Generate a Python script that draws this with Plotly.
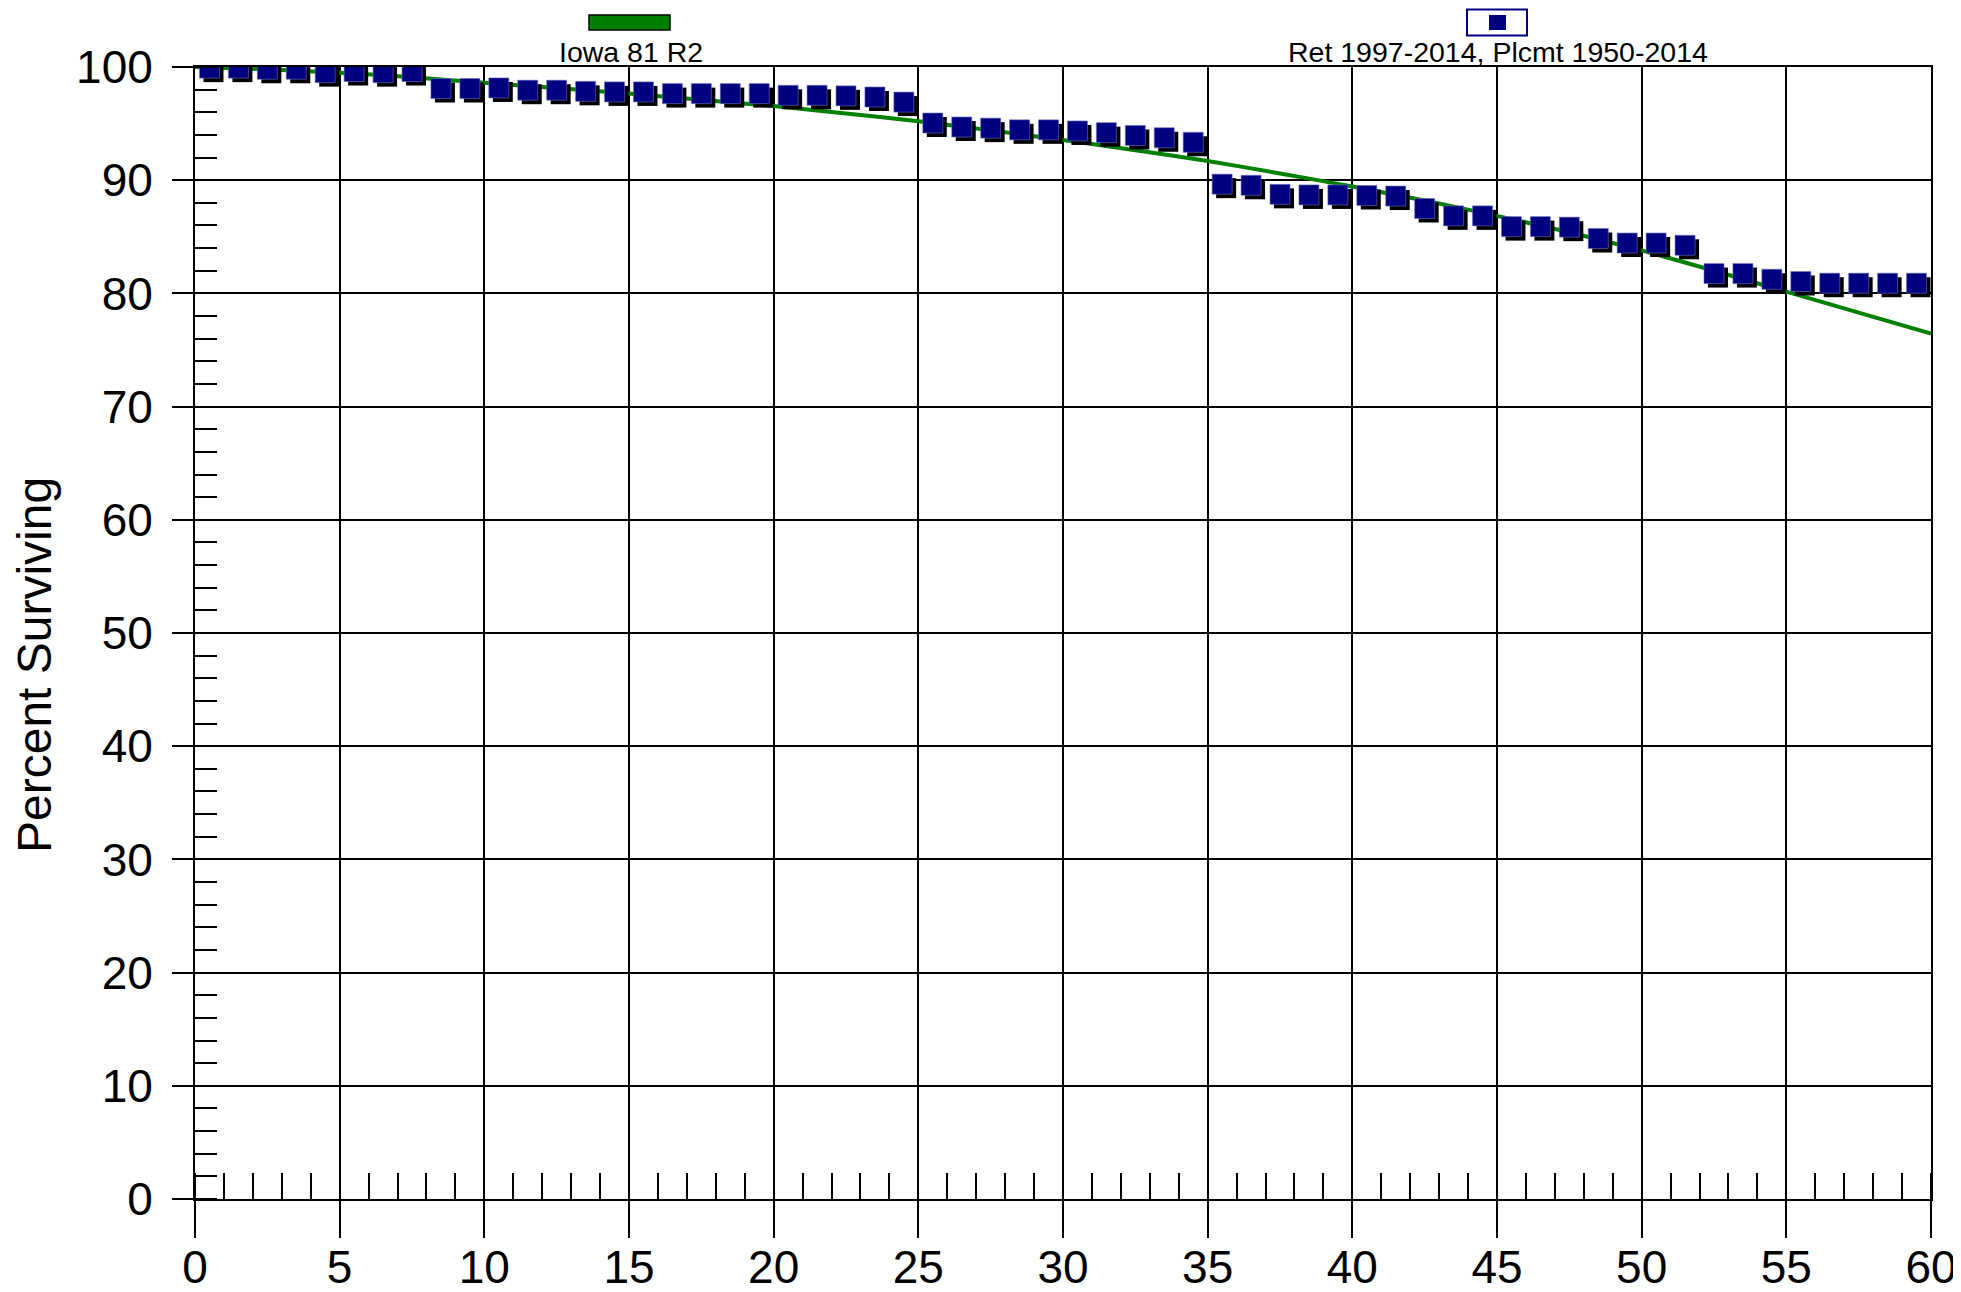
import plotly.graph_objects as go

# ---------------- data ----------------
age = [0.5, 1.5, 2.5, 3.5, 4.5, 5.5, 6.5, 7.5, 8.5, 9.5,
       10.5, 11.5, 12.5, 13.5, 14.5, 15.5, 16.5, 17.5, 18.5, 19.5,
       20.5, 21.5, 22.5, 23.5, 24.5, 25.5, 26.5, 27.5, 28.5, 29.5,
       30.5, 31.5, 32.5, 33.5, 34.5, 35.5, 36.5, 37.5, 38.5, 39.5,
       40.5, 41.5, 42.5, 43.5, 44.5, 45.5, 46.5, 47.5, 48.5, 49.5,
       50.5, 51.5, 52.5, 53.5, 54.5, 55.5, 56.5, 57.5, 58.5, 59.5]
surviving = [99.9, 99.9, 99.8, 99.8, 99.5, 99.6, 99.5, 99.6, 98.1, 98.1,
             98.15, 97.95, 97.95, 97.85, 97.8, 97.8, 97.65, 97.65, 97.65, 97.65,
             97.5, 97.5, 97.45, 97.35, 96.9, 95.05, 94.7, 94.6, 94.45, 94.45,
             94.35, 94.2, 93.95, 93.75, 93.35, 89.65, 89.55, 88.75, 88.7, 88.7,
             88.65, 88.6, 87.5, 86.85, 86.85, 85.9, 85.9, 85.85, 84.85, 84.45,
             84.45, 84.25, 81.75, 81.75, 81.25, 81.05, 80.9, 80.9, 80.9, 80.9]

iowa_age = [0, 2.5, 5, 7.5, 10, 12.5, 15, 17.5, 20, 22.5, 25, 27.5, 30,
            32.5, 35, 37.5, 40, 42.5, 45, 47.5, 50, 52.5, 55, 57.5, 60]
iowa_pct = [100.0, 99.8, 99.5, 99.1, 98.6, 98.15, 97.65, 97.1, 96.55, 95.9,
            95.2, 94.4, 93.55, 92.65, 91.7, 90.6, 89.45, 88.2, 86.85, 85.4,
            83.8, 82.0, 80.15, 78.3, 76.45]

x_ticks = [0, 5, 10, 15, 20, 25, 30, 35, 40, 45, 50, 55, 60]
y_ticks = [0, 10, 20, 30, 40, 50, 60, 70, 80, 90, 100]

curve_name = "Iowa 81 R2"
points_name = "Ret 1997-2014, Plcmt 1950-2014"
y_title = "Percent Surviving"

# ---------------- layout geometry ----------------
# the page body has a default 8px margin, so the figure is sized to fill
# the 1961x1292 window exactly from that offset
OFF = 8
W, H = 1961 - OFF, 1292 - OFF
ML, MR, MT, MB = 187, 30, 59, 93
PW, PH = W - ML - MR, H - MT - MB
X_RANGE = [0, 60]
Y_RANGE = [0, 100]


def px_x(p):
    # p: window pixel column -> paper x
    return (p - OFF - ML) / PW


def px_y(p):
    # p: window pixel row -> paper y
    return (H - MB - (p - OFF)) / PH


# shadow offset (pixels) converted to data units
SH_PX = 4
sh_dx = SH_PX * (X_RANGE[1] - X_RANGE[0]) / PW
sh_dy = SH_PX * (Y_RANGE[1] - Y_RANGE[0]) / PH

FONT = "Liberation Sans, Arial, Helvetica, sans-serif"
GREEN = "#008000"
NAVY = "#000080"
MSIZE = 20

fig = go.Figure()

fig.add_trace(go.Scatter(
    x=iowa_age, y=iowa_pct, mode="lines", name=curve_name,
    line=dict(color=GREEN, width=4, shape="spline", smoothing=0.6),
    showlegend=False, hoverinfo="skip"))

fig.add_trace(go.Scatter(
    x=[a + sh_dx for a in age], y=[s - sh_dy for s in surviving],
    mode="markers", marker=dict(symbol="square", size=MSIZE, color="black", line=dict(width=0)),
    showlegend=False, hoverinfo="skip"))

fig.add_trace(go.Scatter(
    x=age, y=surviving, mode="markers", name=points_name,
    marker=dict(symbol="square", size=MSIZE, color=NAVY, line=dict(width=0.6, color="#6d6dc0")),
    showlegend=False))

axis_common = dict(
    showgrid=True, gridcolor="black", gridwidth=2,
    showline=True, linecolor="black", linewidth=2, mirror=True,
    zeroline=False, ticks="outside", tickcolor="black", tickwidth=2,
    automargin=False,
    tickfont=dict(family=FONT, size=46, color="black"),
)

fig.update_xaxes(
    range=X_RANGE, tickmode="array", tickvals=x_ticks, ticklen=37,
    ticklabelstandoff=-10,
    minor=dict(dtick=1, ticks="inside", ticklen=26, tickwidth=2, tickcolor="black", showgrid=False),
    **axis_common)
fig.update_yaxes(
    range=Y_RANGE, tickmode="array", tickvals=y_ticks, ticklen=21,
    ticklabelstandoff=10,
    minor=dict(dtick=2, ticks="inside", ticklen=22, tickwidth=2, tickcolor="black", showgrid=False),
    **axis_common)

shapes = [
    # green legend swatch
    dict(type="rect", xref="paper", yref="paper",
         x0=px_x(589), x1=px_x(670), y0=px_y(30), y1=px_y(15),
         fillcolor=GREEN, line=dict(color="black", width=1.5), layer="above"),
    # navy legend frame
    dict(type="rect", xref="paper", yref="paper",
         x0=px_x(1467), x1=px_x(1527), y0=px_y(35.5), y1=px_y(9.5),
         fillcolor="white", line=dict(color=NAVY, width=2), layer="above"),
    # navy legend inner square
    dict(type="rect", xref="paper", yref="paper",
         x0=px_x(1489), x1=px_x(1506), y0=px_y(30), y1=px_y(15),
         fillcolor=NAVY, line=dict(width=0), layer="above"),
]

annotations = [
    dict(text=curve_name, xref="paper", yref="paper", x=px_x(631), y=px_y(52),
         xanchor="center", yanchor="middle", showarrow=False,
         font=dict(family=FONT, size=28.5, color="black")),
    dict(text=points_name, xref="paper", yref="paper", x=px_x(1497.5), y=px_y(52),
         xanchor="center", yanchor="middle", showarrow=False,
         font=dict(family=FONT, size=28.5, color="black")),
    dict(text=y_title, xref="paper", yref="paper", x=px_x(34), y=px_y(665),
         xanchor="center", yanchor="middle", showarrow=False, textangle=-90,
         font=dict(family=FONT, size=48, color="black")),
]

fig.update_layout(
    width=W, height=H, autosize=False,
    margin=dict(l=ML, r=MR, t=MT, b=MB, pad=0, autoexpand=False),
    paper_bgcolor="white", plot_bgcolor="white",
    showlegend=False, shapes=shapes, annotations=annotations,
    font=dict(family=FONT, color="black"),
)

fig.write_html("out.html")
